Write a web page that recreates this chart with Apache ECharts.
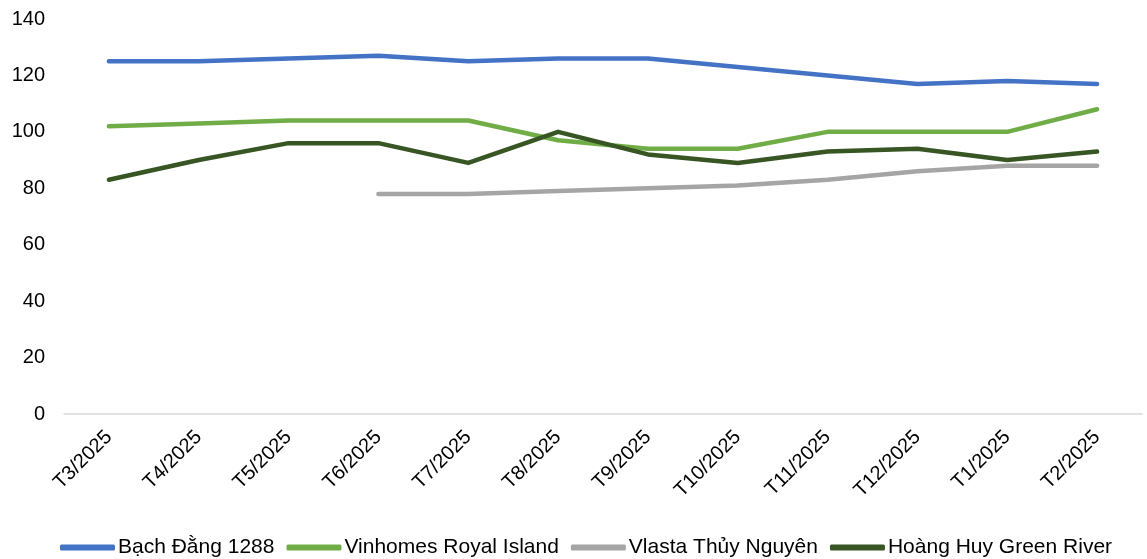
<!DOCTYPE html>
<html lang="vi">
<head>
  <meta charset="UTF-8">
  <title>Chart</title>
  <script src="https://cdn.jsdelivr.net/npm/echarts@6/dist/echarts.min.js"></script>
  <style>
    html, body { margin: 0; padding: 0; background: #fff; }
  </style>
</head>
<body>
  <div id="main" style="width: 1147px;height: 559px;"></div>
  <script>
    // dữ liệu
    const categories = ['T3/2025', 'T4/2025', 'T5/2025', 'T6/2025', 'T7/2025', 'T8/2025',
      'T9/2025', 'T10/2025', 'T11/2025', 'T12/2025', 'T1/2025', 'T2/2025']
    const bachDang = [125, 125, 126, 127, 125, 126, 126, 123, 120, 117, 118, 117]
    const vinhomes = [102, 103, 104, 104, 104, 97, 94, 94, 100, 100, 100, 108]
    const vlasta = ['-', '-', '-', 78, 78, 79, 80, 81, 83, 86, 88, 88]
    const hoangHuy = [83, 90, 96, 96, 89, 100, 92, 89, 93, 94, 90, 93]

    const myChart = echarts.init(document.getElementById('main'))

    const font = 'Liberation Sans, Arial, sans-serif'
    const lineSeries = (name, data, color) => ({
      name,
      type: 'line',
      data,
      symbol: 'none',
      lineStyle: { width: 4.5, color, cap: 'round', join: 'round' },
      itemStyle: { color }
    })

    const option = {
      animation: false,
      textStyle: { fontFamily: font },
      grid: { left: 64, right: 5, top: 19, bottom: 145 },
      legend: {
        top: 532,
        left: 55,
        icon: 'roundRect',
        itemWidth: 55,
        itemHeight: 6,
        itemGap: 12,
        textStyle: { fontSize: 21, color: '#000', fontFamily: font, padding: [0, 0, 0, -2] }
      },
      xAxis: {
        type: 'category',
        data: categories,
        boundaryGap: true,
        axisLine: { lineStyle: { color: '#d9d9d9', width: 1.5 } },
        axisTick: { show: false },
        axisLabel: { rotate: 45, fontSize: 20, color: '#000', margin: 20, interval: 0 }
      },
      yAxis: {
        type: 'value',
        min: 0,
        max: 140,
        interval: 20,
        splitLine: { show: false },
        axisLine: { show: false },
        axisTick: { show: false },
        axisLabel: { fontSize: 20, color: '#000', margin: 19 }
      },
      series: [
        lineSeries('Bạch Đằng 1288', bachDang, '#4472C4'),
        lineSeries('Vinhomes Royal Island', vinhomes, '#70AD47'),
        lineSeries('Vlasta Thủy Nguyên', vlasta, '#A5A5A5'),
        lineSeries('Hoàng Huy Green River', hoangHuy, '#375623')
      ]
    }

    myChart.setOption(option)
  </script>
</body>
</html>
